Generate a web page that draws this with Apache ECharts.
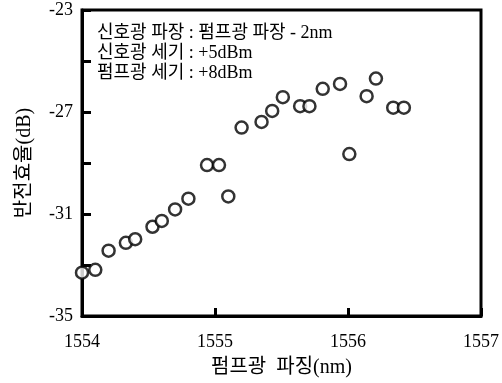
<!DOCTYPE html>
<html><head><meta charset="utf-8">
<script src="https://cdn.jsdelivr.net/npm/echarts@6/dist/echarts.min.js"></script>
<style>html,body{margin:0;padding:0;background:#fff}#c{width:502px;height:383px}</style>
</head><body><div id="c"></div>
<script>
var pumpWavelength = [1554.00,1554.10,1554.20,1554.33,1554.40,1554.53,1554.60,1554.70,1554.80,1554.94,1555.03,1555.10,1555.20,1555.35,1555.43,1555.51,1555.64,1555.71,1555.81,1555.94,1556.01,1556.14,1556.21,1556.34,1556.42];
var efficiency = [-33.30,-33.19,-32.44,-32.13,-31.99,-31.50,-31.27,-30.82,-30.40,-29.08,-29.08,-30.31,-27.61,-27.39,-26.96,-26.42,-26.77,-26.77,-26.09,-25.90,-28.65,-26.38,-25.69,-26.83,-26.83];
var yTickLabels = [-35,-31,-27,-23];
var noteLines = ['신호광 파장 : 펌프광 파장 - 2nm','신호광 세기 : +5dBm','펌프광 세기 : +8dBm'];
var xName = '펌프광  파징(nm)';
var yName = '반전효율(dB)';

var pts = pumpWavelength.map(function(x,i){return [x, efficiency[i]];});
var serif = "'Liberation Serif','Noto Sans CJK KR',serif";
var chart = echarts.init(document.getElementById('c'));
chart.setOption({
  animation:false,
  backgroundColor:'#fff',
  grid:{left:82,right:19,top:10,bottom:65,show:true,borderColor:'#000',borderWidth:3,backgroundColor:'transparent'},
  xAxis:{type:'value',min:1554,max:1557,interval:1,
    name:xName,nameLocation:'middle',nameGap:42,
    nameTextStyle:{fontFamily:serif,fontSize:20,color:'#000'},
    axisLine:{show:true,lineStyle:{color:'#000',width:3}},
    axisTick:{show:true,inside:true,length:8,lineStyle:{color:'#000',width:3}},
    axisLabel:{fontFamily:serif,fontSize:18,color:'#000',margin:17,formatter:function(v){return String(v);}},
    splitLine:{show:false}},
  yAxis:{type:'value',min:-35,max:-23,interval:2,
    name:yName,nameLocation:'middle',nameGap:47,nameRotate:90,
    nameTextStyle:{fontFamily:serif,fontSize:20,color:'#000'},
    axisLine:{show:true,lineStyle:{color:'#000',width:3}},
    axisTick:{show:true,inside:true,length:9,lineStyle:{color:'#000',width:3}},
    axisLabel:{fontFamily:serif,fontSize:18,color:'#000',margin:9,
      formatter:function(v){return yTickLabels.indexOf(v)>=0?String(v):'';}},
    splitLine:{show:false}},
  graphic:noteLines.map(function(t,i){
    return {type:'text',left:97,top:24+i*20,style:{text:t,font:"18px 'Liberation Serif','Noto Sans CJK KR',serif",fill:'#000'}};
  }),
  series:[{type:'scatter',data:pts,symbol:'circle',symbolSize:12,
    itemStyle:{color:'#fff',borderColor:'#000',borderWidth:2.5}}]
});
</script></body></html>
